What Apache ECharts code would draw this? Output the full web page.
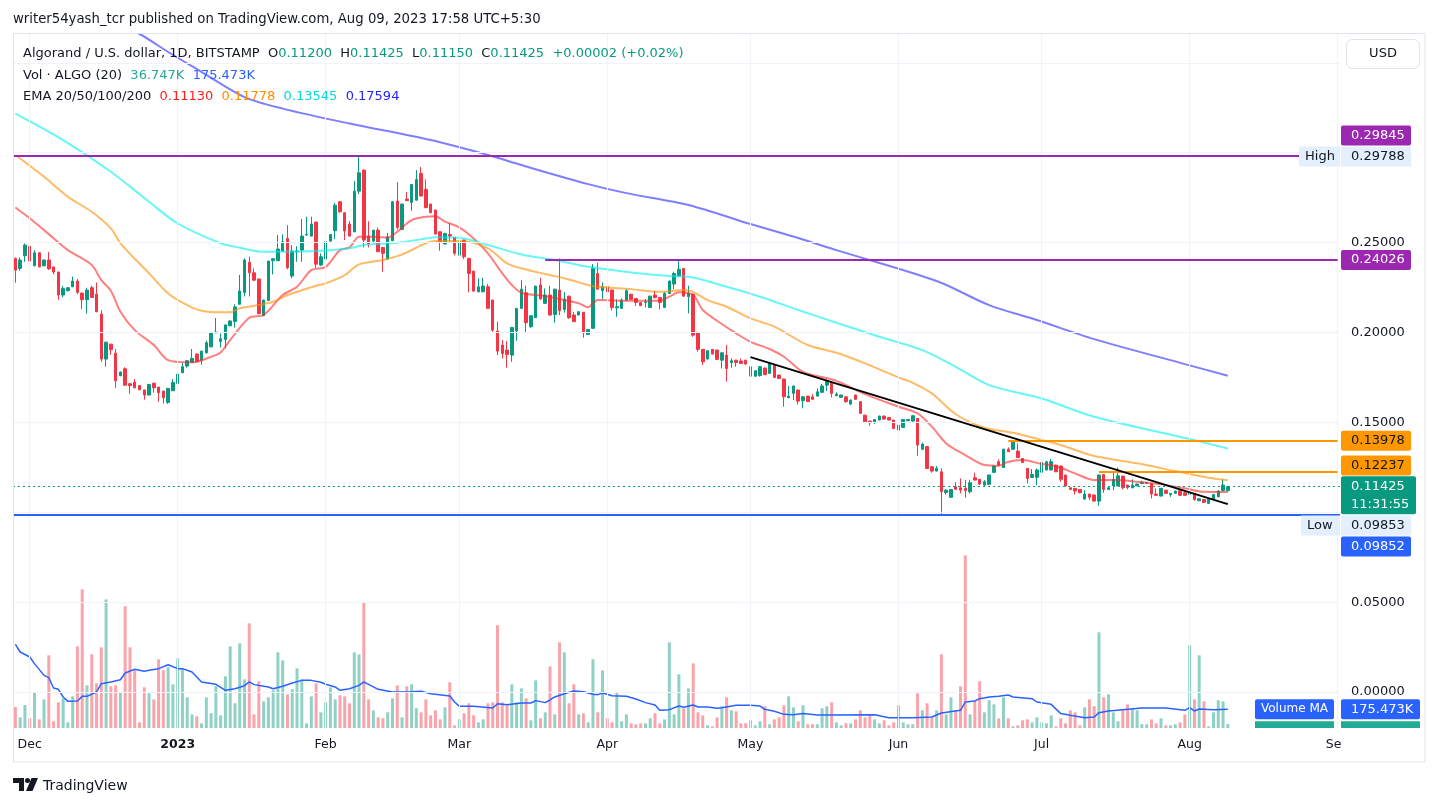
<!DOCTYPE html>
<html><head><meta charset="utf-8">
<script src="https://cdn.jsdelivr.net/npm/echarts/dist/echarts.min.js"></script>
<style>html,body{margin:0;padding:0;background:#fff}#c{width:1439px;height:807px}</style>
</head><body><div id="c"></div>
<script>
// ---------- DATA ----------
const firstDay = Date.UTC(2022, 10, 28);   // category axis runs Nov 28 2022 .. Sep 1 2023
const dayCount = 278;
const categories = [];
for (let i = 0; i < dayCount; i++) categories.push(new Date(firstDay + i * 86400000).toISOString().slice(0, 10));
const monthNames = ['Jan','Feb','Mar','Apr','May','Jun','Jul','Aug','Sep','Oct','Nov','Dec'];

const opens = [
.2412,.2356,.2427,.2480,.2371,.2443,.2371,.2403,.2364,.2336,
.2208,.2232,.2254,.2286,.2219,.2182,.2249,.2213,.2102,.1852,
.1935,.1885,.1759,.1798,.1715,.1724,.1705,.1680,.1652,.1718,
.1696,.1674,.1611,.1676,.1717,.1776,.1813,.1833,.1880,.1846,
.1887,.1920,.1998,.1950,.1961,.2037,.2061,.2157,.2222,.2391,
.2332,.2297,.2093,.2178,.2399,.2399,.2453,.2523,.2314,.2449,
.2458,.2542,.2536,.2614,.2375,.2408,.2508,.2566,.2727,.2666,
.2603,.2560,.2786,.2903,.2536,.2508,.2569,.2473,.2408,.2510,
.2731,.2573,.2742,.2723,.2736,.2885,.2796,.2714,.2681,.2560,
.2492,.2545,.2529,.2430,.2514,.2412,.2341,.2226,.2226,.2254,
.2180,.2008,.1930,.1902,.1874,.2008,.2134,.2221,.2032,.2082,
.2264,.2162,.2208,.2100,.2236,.2128,.2202,.2097,.2097,.2112,
.1989,.2023,.2328,.2232,.2254,.2236,.2137,.2134,.2180,.2213,
.2189,.2167,.2167,.2139,.2208,.2195,.2139,.2217,.2269,.2314,
.2356,.2199,.2213,.1995,.1906,.1852,.1906,.1902,.1846,.1874,
.1832,.1846,.1841,.1846,.1809,.1757,.1761,.1802,.1772,.1817,
.1763,.1741,.1637,.1661,.1680,.1620,.1646,.1642,.1646,.1667,
.1707,.1720,.1648,.1639,.1642,.1602,.1652,.1615,.1540,.1507,
.1498,.1513,.1535,.1527,.1513,.1457,.1472,.1509,.1507,.1522,
.1350,.1365,.1253,.1229,.1225,.1110,.1083,.1142,.1136,.1133,
.1114,.1192,.1183,.1151,.1155,.1222,.1281,.1249,.1351,.1350,
.1340,.1299,.1244,.1194,.1194,.1222,.1235,.1235,.1262,.1257,
.1207,.1136,.1133,.1127,.1073,.1101,.1096,.1062,.1210,.1127,
.1147,.1147,.1201,.1151,.1136,.1147,.1160,.1160,.1160,.1101,
.1090,.1123,.1099,.1105,.1120,.1108,.1099,.1105,.1064,.1071,
.1049,.1073,.1086,.1120,.11200];
const highs = [
.2417,.2417,.2495,.2484,.2458,.2447,.2405,.2447,.2366,.2338,
.2258,.2251,.2310,.2297,.2221,.2249,.2260,.2278,.2124,.1948,
.1937,.1908,.1782,.1806,.1717,.1741,.1707,.1682,.1713,.1720,
.1698,.1676,.1691,.1741,.1791,.1830,.1845,.1908,.1882,.1898,
.1954,.2002,.2080,.1994,.2044,.2066,.2157,.2320,.2412,.2421,
.2356,.2299,.2182,.2399,.2412,.2542,.2545,.2597,.2486,.2480,
.2631,.2644,.2644,.2616,.2440,.2507,.2547,.2721,.2729,.2668,
.2619,.2842,.29788,.2905,.2619,.2571,.2584,.2475,.2553,.2729,
.2836,.2716,.2781,.2825,.2903,.2920,.2851,.2716,.2683,.2562,
.2553,.2610,.2531,.2542,.2516,.2414,.2343,.2301,.2304,.2269,
.2182,.2060,.1958,.1952,.2030,.2136,.2291,.2260,.2095,.2260,
.2304,.2245,.2260,.2243,.2412,.2225,.2204,.2115,.2117,.2114,
.2019,.2380,.2388,.2278,.2278,.2238,.2184,.2189,.2241,.2215,
.2191,.2169,.2186,.2204,.2232,.2197,.2226,.2288,.2338,.2399,
.2358,.2260,.2215,.1997,.1908,.1900,.1908,.1904,.1889,.1930,
.1856,.1848,.1856,.1848,.1811,.1789,.1811,.1804,.1832,.1819,
.1765,.1743,.1702,.1704,.1682,.1646,.1648,.1657,.1689,.1713,
.1739,.1722,.1667,.1654,.1644,.1626,.1654,.1617,.1542,.1509,
.1518,.1537,.1537,.1529,.1515,.1487,.1518,.1518,.1540,.1524,
.1387,.1367,.1255,.1257,.1244,.1127,.1129,.1166,.1188,.1179,
.1179,.1220,.1185,.1179,.1209,.1262,.1294,.1353,.1361,.1402,
.1383,.1301,.1246,.1240,.1244,.1279,.1286,.1296,.1264,.1259,
.1209,.1138,.1135,.1129,.1123,.1103,.1098,.1209,.1212,.1142,
.1222,.1249,.1203,.1153,.1183,.1159,.1175,.1168,.1162,.1133,
.1135,.1125,.1107,.1120,.1122,.1114,.1112,.1107,.1077,.1073,
.1075,.1101,.1123,.1185,.11425];
const lows = [
.2277,.2343,.2393,.2393,.2368,.2362,.2368,.2347,.2323,.2182,
.2195,.2229,.2252,.2213,.2130,.2104,.2193,.2113,.1837,.1809,
.1876,.1692,.1757,.1702,.1659,.1690,.1679,.1626,.1650,.1665,
.1615,.1605,.1603,.1674,.1715,.1774,.1804,.1831,.1835,.1820,
.1882,.1918,.1996,.1916,.1912,.2035,.2027,.2155,.2200,.2200,
.2286,.2102,.2091,.2176,.2323,.2397,.2451,.2351,.2301,.2393,
.2393,.2538,.2534,.2360,.2369,.2317,.2506,.2519,.2666,.2514,
.2534,.2558,.2770,.2473,.2473,.2495,.2447,.2338,.2406,.2508,
.2573,.2571,.2731,.2677,.2734,.2757,.2692,.2664,.2545,.2454,
.2490,.2505,.2430,.2428,.2408,.2223,.2226,.2224,.2224,.2132,
.2004,.1874,.1856,.1804,.1837,.1954,.2132,.1998,.2026,.2080,
.2184,.2160,.2095,.2054,.2097,.2110,.2076,.2058,.2095,.1971,
.1987,.2021,.2239,.2186,.2199,.2121,.2087,.2132,.2178,.2182,
.2147,.2147,.2139,.2137,.2191,.2128,.2137,.2215,.2241,.2312,
.2200,.2106,.1976,.1893,.1819,.1850,.1878,.1848,.1800,.1726,
.1804,.1809,.1826,.1822,.1752,.1754,.1754,.1763,.1770,.1748,
.1742,.1587,.1635,.1624,.1600,.1578,.1613,.1626,.1644,.1665,
.1674,.1639,.1646,.1637,.1609,.1596,.1626,.1548,.1498,.1481,
.1490,.1511,.1513,.1511,.1464,.1451,.1470,.1507,.1505,.1314,
.1348,.1242,.1220,.1227,.09853,.1099,.1081,.1125,.1105,.1081,
.1105,.1177,.1151,.1146,.1151,.1220,.1260,.1247,.1335,.1348,
.1303,.1275,.1160,.1192,.1151,.1220,.1233,.1233,.1223,.1170,
.1144,.1125,.1099,.1106,.1071,.1068,.1060,.1036,.1108,.1125,
.1123,.1145,.1127,.1127,.1134,.1145,.1158,.1158,.1077,.1092,
.1088,.1103,.1086,.1103,.1092,.1092,.1068,.1064,.1062,.1053,
.1047,.1071,.1084,.1118,.11150];
const closes = [
.2347,.2403,.2486,.2397,.2443,.2365,.2403,.2354,.2336,.2208,
.2245,.2249,.2286,.2223,.2182,.2236,.2195,.2115,.1852,.1946,
.1904,.1731,.1780,.1707,.1704,.1692,.1681,.1652,.1711,.1692,
.1665,.1637,.1689,.1722,.1769,.1809,.1843,.1856,.1837,.1896,
.1943,.2000,.2002,.1965,.2042,.2064,.2142,.2231,.2403,.2332,
.2291,.2104,.2180,.2397,.2410,.2464,.2505,.2360,.2453,.2453,
.2536,.2545,.2603,.2380,.2421,.2505,.2545,.2708,.2671,.2564,
.2536,.2786,.2888,.2514,.2492,.2569,.2449,.2440,.2532,.2727,
.2584,.2714,.2733,.2823,.2851,.2759,.2694,.2666,.2547,.2505,
.2551,.2536,.2440,.2505,.2421,.2328,.2230,.2254,.2258,.2134,
.2013,.1896,.1883,.1878,.2028,.2134,.2241,.2054,.2093,.2258,
.2186,.2208,.2097,.2241,.2121,.2186,.2082,.2060,.2115,.1998,
.2017,.2356,.2241,.2254,.2226,.2139,.2143,.2180,.2232,.2184,
.2167,.2149,.2171,.2202,.2193,.2167,.2217,.2286,.2328,.2352,
.2202,.2217,.1985,.1906,.1837,.1898,.1880,.1850,.1887,.1800,
.1843,.1833,.1828,.1824,.1757,.1787,.1809,.1765,.1828,.1750,
.1744,.1642,.1646,.1702,.1618,.1642,.1615,.1628,.1670,.1702,
.1731,.1661,.1657,.1652,.1615,.1624,.1628,.1550,.1503,.1498,
.1516,.1535,.1518,.1513,.1466,.1485,.1516,.1516,.1537,.1374,
.1379,.1244,.1229,.1244,.1114,.1123,.1127,.1127,.1123,.1120,
.1164,.1179,.1157,.1170,.1207,.1257,.1262,.1351,.1337,.1392,
.1305,.1277,.1188,.1210,.1235,.1277,.1281,.1281,.1225,.1183,
.1146,.1127,.1118,.1108,.1101,.1083,.1062,.1207,.1127,.1136,
.1183,.1203,.1136,.1138,.1151,.1157,.1166,.1166,.1101,.1094,
.1133,.1105,.1105,.1118,.1094,.1094,.1110,.1071,.1075,.1055,
.1073,.1099,.1118,.1151,.11425];
// volume in thousands of ALGO
const volumesK = [
197,100,216,91,335,81,269,682,63,241,
278,53,297,766,1301,400,691,419,757,1207,
391,400,335,1142,757,541,53,382,326,269,
645,541,570,410,654,560,288,128,110,44,
288,138,391,119,485,766,232,795,457,982,
128,438,250,288,354,710,635,316,363,560,
457,44,297,419,147,241,382,269,307,297,
232,710,691,1179,269,166,100,91,147,278,
400,100,391,410,185,147,269,119,166,81,
194,429,25,81,138,232,119,53,81,232,
241,964,241,213,410,241,372,278,72,447,
91,147,579,128,804,710,232,410,128,138,
53,645,147,541,91,53,335,63,128,44,
35,44,44,91,138,44,81,804,128,504,
185,372,607,147,119,25,16,100,204,288,
166,157,44,44,72,25,63,204,35,81,
100,213,297,194,63,213,35,35,35,185,
204,241,53,25,44,44,81,166,100,119,
81,44,72,25,53,213,53,35,35,326,
166,232,100,166,691,128,288,166,391,1620,
128,250,438,147,260,222,91,288,91,16,
25,72,81,53,100,53,44,119,16,91,
44,166,147,25,194,269,204,898,288,316,
147,63,166,222,185,166,35,35,81,44,
91,25,25,35,53,128,776,269,682,250,
16,147,260,250,36.747];
// indicator lines: [day index, value]
const volumeMA = [[0,785],[1,713],[3,666],[4,604],[6,494],[7,472],[8,375],[9,363],[10,291],[11,250],[13,253],[14,297],[15,297],[17,338],[18,416],[20,432],[22,453],[23,516],[25,551],[27,532],[28,541],[30,557],[32,594],[34,557],[35,557],[37,525],[39,432],[42,410],[44,354],[46,369],[48,397],[49,432],[50,407],[53,385],[54,369],[56,391],[58,422],[60,447],[62,447],[64,429],[65,410],[67,385],[68,354],[70,369],[72,400],[73,432],[74,410],[76,363],[79,338],[83,341],[85,344],[87,322],[91,300],[92,244],[93,203],[96,203],[100,188],[101,228],[103,219],[106,235],[108,235],[109,257],[111,238],[112,263],[113,291],[115,322],[117,347],[119,341],[121,316],[122,313],[123,328],[125,303],[128,297],[130,272],[132,238],[134,216],[135,166],[137,172],[139,206],[140,194],[142,216],[143,197],[145,197],[147,185],[148,191],[151,213],[154,213],[156,206],[157,175],[159,157],[161,128],[163,125],[165,135],[168,122],[171,122],[180,125],[183,97],[188,97],[192,103],[194,141],[198,166],[199,244],[201,253],[202,275],[204,291],[206,297],[208,310],[209,291],[213,275],[214,244],[217,222],[219,135],[221,119],[224,97],[226,103],[227,144],[229,160],[232,172],[236,188],[241,188],[245,166],[246,191],[247,160],[248,178],[251,172],[254,175.473]];
const ema20 = [[0,.2695],[3,.2635],[7,.2547],[11,.2458],[16,.2375],[18,.2291],[20,.2232],[22,.2115],[25,.2013],[29,.1930],[32,.1846],[36,.1834],[38,.1837],[41,.1865],[43,.1889],[45,.1958],[49,.2082],[52,.2097],[56,.2208],[59,.2254],[62,.2347],[65,.2365],[68,.2458],[70,.2473],[72,.2532],[75,.2532],[78,.2527],[80,.2560],[83,.2625],[86,.2644],[88,.2647],[90,.2616],[93,.2585],[96,.2523],[99,.2440],[102,.2329],[104,.2264],[106,.2221],[111,.2202],[115,.2180],[118,.2162],[120,.2140],[121,.2162],[122,.2180],[129,.2176],[135,.2176],[137,.2199],[139,.2223],[142,.2208],[144,.2125],[148,.2047],[151,.1995],[154,.1948],[158,.1908],[161,.1865],[165,.1781],[172,.1731],[178,.1657],[185,.1587],[189,.1550],[192,.1476],[195,.1383],[199,.1318],[203,.1263],[206,.1259],[208,.1281],[211,.1290],[215,.1268],[218,.1257],[222,.1216],[226,.1179],[230,.1179],[235,.1170],[240,.1155],[245,.1133],[249,.1114],[254,.11130]];
const ema50 = [[0,.2987],[6,.2866],[11,.2755],[16,.2671],[20,.2579],[22,.2496],[28,.2329],[32,.2217],[36,.2152],[39,.2121],[43,.2112],[45,.2112],[47,.2134],[50,.2148],[54,.2171],[57,.2208],[63,.2260],[65,.2273],[69,.2319],[72,.2379],[77,.2403],[81,.2434],[86,.2496],[88,.2508],[93,.2508],[99,.2468],[103,.2384],[106,.2357],[111,.2325],[116,.2295],[121,.2258],[129,.2241],[135,.2226],[140,.2236],[142,.2226],[145,.2180],[149,.2143],[154,.2078],[159,.2032],[166,.1930],[172,.1887],[178,.1828],[185,.1750],[188,.1720],[192,.1661],[197,.1545],[203,.1470],[209,.1442],[215,.1402],[219,.1374],[226,.1313],[235,.1272],[243,.1229],[250,.1192],[254,.11778]];
const ema100 = [[0,.3217],[10,.3070],[20,.2894],[28,.2727],[34,.2606],[43,.2496],[47,.2471],[52,.2449],[63,.2453],[70,.2468],[73,.2486],[80,.2499],[86,.2523],[88,.2529],[94,.2523],[99,.2486],[106,.2434],[113,.2403],[120,.2365],[129,.2334],[137,.2314],[141,.2310],[149,.2254],[156,.2199],[164,.2125],[172,.2054],[181,.1976],[190,.1902],[197,.1809],[204,.1707],[215,.1633],[226,.1531],[246,.1407],[254,.13545]];
const ema200 = [[0,.403],[13,.383],[26,.366],[32,.3560],[38,.3465],[48,.3309],[56,.3245],[70,.3162],[87,.3070],[99,.2987],[106,.2931],[120,.2825],[128,.2775],[141,.2709],[154,.2603],[164,.2525],[172,.2458],[193,.2286],[204,.2152],[214,.2069],[226,.1963],[245,.1824],[254,.17594]];
// drawings
const trendLine = [[154, 0.1863], [254, 0.1045]];
const highLevel = 0.29845, lowLevel = 0.09852;
const resistance = [[111, 0.24026], [208, 0.13978], [227, 0.12237]];
const lastPrice = 0.11425, highMark = 0.29788, lowMark = 0.09853;
const priceTicks = [0, 0.05, 0.10, 0.15, 0.20, 0.25, 0.30, 0.35];
const hiddenTickLabels = [0.10, 0.30, 0.35];

// ---------- CHART ----------
const FONT = 'DejaVu Sans';
const TXT = '#131722';
const UP = '#089981', DOWN = '#f23645';
const chart = echarts.init(document.getElementById('c'), null, {renderer: 'canvas'});
const last = closes.length - 1;
const candleData = opens.map((o, i) => [o, closes[i], lows[i], highs[i]]);
const volData = volumesK.map((v, i) => ({value: v, itemStyle: {color: closes[i] >= opens[i] ? 'rgba(8,153,129,0.45)' : 'rgba(242,54,69,0.45)'}}));
const monthStarts = categories.filter(c => c.slice(8) === '01');
const PANE_TOP = 34, PANE_BOTTOM = 728, PANE_LEFT = 13, PANE_RIGHT = 1340;
const VOL_PER_PX = 9.383; // thousands per pixel in the volume overlay

const emaLine = (data, color) => ({type: 'line', data, symbol: 'none', smooth: 0.3, z: 4, silent: true,
  lineStyle: {color, width: 2}, yAxisIndex: 0});

chart.setOption({
  animation: false,
  backgroundColor: '#ffffff',
  grid: {left: PANE_LEFT, right: 1439 - PANE_RIGHT, top: PANE_TOP, bottom: 807 - PANE_BOTTOM},
  xAxis: {type: 'category', data: categories, boundaryGap: true,
    axisLine: {show: false}, axisTick: {show: false}, splitLine: {show: false},
    axisLabel: {interval: (i, v) => v.slice(8) === '01',
      formatter: v => { const m = +v.slice(5, 7); return m === 1 ? '{b|' + v.slice(0, 4) + '}' : monthNames[m - 1]; },
      rich: {b: {fontWeight: 'bold', fontSize: 12.5, fontFamily: FONT, color: TXT}},
      color: TXT, fontSize: 12.5, fontFamily: FONT, margin: 10}},
  yAxis: [
    {type: 'value', position: 'right', min: -0.02, max: 0.366, interval: 0.01,
      axisLine: {show: false}, axisTick: {show: false}, splitLine: {show: false},
      axisLabel: {color: TXT, fontSize: 13, fontFamily: FONT, margin: 11,
        formatter: v => { const k = Math.round(v * 1000); if (k < 0 || k % 50 !== 0) return '';
          if (hiddenTickLabels.some(h => Math.abs(h - v) < 1e-6)) return ''; return v.toFixed(5); }}},
    {type: 'value', min: 0, max: (PANE_BOTTOM - PANE_TOP) * VOL_PER_PX, show: false}
  ],
  series: [
    {type: 'line', data: [], z: 0, silent: true,
      markLine: {silent: true, precision: 5, symbol: ['none', 'none'], label: {show: false}, animation: false,
        lineStyle: {color: '#f0f3fa', width: 1, type: 'solid'},
        data: priceTicks.map(v => ({yAxis: v})).concat(monthStarts.map(c => ({xAxis: c})))}},
    {type: 'bar', data: volData, yAxisIndex: 1, barWidth: 3, z: 1, silent: true},
    {type: 'line', data: volumeMA, yAxisIndex: 1, symbol: 'none', z: 2, silent: true,
      lineStyle: {color: '#2962ff', width: 1.5}},
    {type: 'candlestick', data: candleData, barWidth: 3, z: 3, silent: true,
      itemStyle: {color: UP, color0: DOWN, borderColor: UP, borderColor0: DOWN, borderWidth: 1}},
    emaLine(ema20, 'rgba(255,40,40,0.6)'),
    emaLine(ema50, 'rgba(255,140,0,0.6)'),
    emaLine(ema100, 'rgba(0,240,240,0.6)'),
    emaLine(ema200, 'rgba(40,40,255,0.6)'),
    {type: 'line', data: [], z: 5, silent: true,
      markLine: {silent: true, precision: 5, symbol: ['none', 'none'], label: {show: false}, animation: false,
        data: [
          {yAxis: highLevel, lineStyle: {color: '#9c27b0', width: 2, type: 'solid'}},
          {yAxis: lowLevel, lineStyle: {color: '#2962ff', width: 2, type: 'solid'}},
          {yAxis: lastPrice, lineStyle: {color: UP, width: 1, type: [2, 3]}},
          [{coord: resistance[0], lineStyle: {color: '#9c27b0', width: 2, type: 'solid'}}, {coord: [dayCount - 1, resistance[0][1]]}],
          [{coord: resistance[1], lineStyle: {color: '#ff9800', width: 2, type: 'solid'}}, {coord: [dayCount - 1, resistance[1][1]]}],
          [{coord: resistance[2], lineStyle: {color: '#ff9800', width: 2, type: 'solid'}}, {coord: [dayCount - 1, resistance[2][1]]}]
        ]}},
    {type: 'line', data: trendLine, symbol: 'none', z: 6, silent: true, lineStyle: {color: '#000000', width: 2}}
  ]
});

// ---------- OVERLAY TEXT / BADGES ----------
const yp = v => chart.convertToPixel({yAxisIndex: 0}, v);
const yv = v => chart.convertToPixel({yAxisIndex: 1}, v);
const g = [];
const font13 = '13px "' + FONT + '"';
function text(x, y, s, fill, font, align) {
  g.push({type: 'text', x, y, z: 102, silent: true,
    style: {text: s, fill, font: font || font13, textAlign: align || 'left', align: align || 'left', textVerticalAlign: 'middle', verticalAlign: 'middle'}});
}
function rect(x, y, w, h, fill, r) {
  g.push({type: 'rect', z: 101, silent: true, shape: {x, y, width: w, height: h, r: r || 0}, style: {fill}});
}
function badge(yc, bg, s, tc) { rect(1341, yc - 10, 70, 20, bg, 2); text(1351, yc, s, tc); }

// frame
g.push({type: 'rect', z: 99, silent: true, shape: {x: 13.5, y: 33.5, width: 1411.5, height: 728.5}, style: {fill: 'none', stroke: '#e0e3eb', lineWidth: 1}});
// hide the part of the "Sep" label that runs under the price scale
rect(1341, 730, 83, 31, '#ffffff');
// header
text(13, 20, 'writer54yash_tcr published on TradingView.com, Aug 09, 2023 17:58 UTC+5:30', '#131722', '13.25px "' + FONT + '"');
const rich = {
  d: {fill: TXT, font: font13, color: TXT},
  g: {fill: UP, font: font13, color: UP},
  t: {fill: '#26a69a', font: font13, color: '#26a69a'},
  b: {fill: '#2962ff', font: font13, color: '#2962ff'},
  r: {fill: '#ff1f1f', font: font13, color: '#ff1f1f'},
  o: {fill: '#ff8c00', font: font13, color: '#ff8c00'},
  c: {fill: '#00d8e6', font: font13, color: '#00d8e6'},
  u: {fill: '#2424ff', font: font13, color: '#2424ff'}
};
const f5 = v => v.toFixed(5);
const headerLines = [
  '{d|Algorand / U.S. dollar, 1D, BITSTAMP}  {d|O}{g|' + f5(opens[last]) + '}  {d|H}{g|' + f5(highs[last]) + '}  {d|L}{g|' + f5(lows[last]) + '}  {d|C}{g|' + f5(closes[last]) + '}  {g|+0.00002 (+0.02%)}',
  '{d|Vol · ALGO (20)}  {t|' + volumesK[last].toFixed(3) + 'K}  {b|' + volumeMA[volumeMA.length - 1][1].toFixed(3) + 'K}',
  '{d|EMA 20/50/100/200}  {r|' + f5(ema20[ema20.length - 1][1]) + '}  {o|' + f5(ema50[ema50.length - 1][1]) + '}  {c|' + f5(ema100[ema100.length - 1][1]) + '}  {u|' + f5(ema200[ema200.length - 1][1]) + '}'
];
[53.5, 75.5, 96.5].forEach((y, i) => g.push({type: 'text', x: 23, y, z: 102, silent: true,
  style: {text: headerLines[i], rich, fill: TXT, font: font13, textVerticalAlign: 'middle', verticalAlign: 'middle'}}));
// USD button
g.push({type: 'rect', z: 101, silent: true, shape: {x: 1346.5, y: 39.5, width: 73, height: 29, r: 6}, style: {fill: '#fff', stroke: '#e0e3eb', lineWidth: 1}});
text(1383, 54, 'USD', TXT, font13, 'center');
// price-scale badges
badge(yp(highLevel) - 20, '#9c27b0', f5(highLevel), '#ffffff');
rect(1299, yp(highMark) - 10, 41, 20, '#e3effd'); rect(1341, yp(highMark) - 10, 70, 20, '#e3effd');
text(1305, yp(highMark), 'High', TXT); text(1351, yp(highMark), f5(highMark), TXT);
badge(yp(resistance[0][1]), '#9c27b0', f5(resistance[0][1]), '#ffffff');
badge(yp(resistance[1][1]), '#ff9800', f5(resistance[1][1]), TXT);
badge(yp(resistance[2][1]) - 6.5, '#ff9800', f5(resistance[2][1]), TXT);
rect(1341, yp(lastPrice) - 10.5, 75, 38, UP, 2);
text(1351, yp(lastPrice), f5(lastPrice), '#ffffff'); text(1351, yp(lastPrice) + 18, '11:31:55', '#ffffff');
rect(1301, yp(lowMark) + 0.5, 39, 20, '#e3effd'); rect(1341, yp(lowMark) + 0.5, 70, 20, '#e3effd');
text(1307, yp(lowMark) + 10.5, 'Low', TXT); text(1351, yp(lowMark) + 10.5, f5(lowMark), TXT);
badge(yp(lowLevel) + 31.5, '#2962ff', f5(lowLevel), '#ffffff');
// volume badges
const maY = yv(volumeMA[volumeMA.length - 1][1]);
rect(1255, maY - 10, 79, 20, '#2962ff', 2); text(1294.5, maY, 'Volume MA', '#ffffff', '12px "' + FONT + '"', 'center');
rect(1341, maY - 10, 79, 20, '#2962ff', 2); text(1351, maY, volumeMA[volumeMA.length - 1][1].toFixed(3) + 'K', '#ffffff');
rect(1255, maY + 12, 79, PANE_BOTTOM - maY - 12, '#22ab94', 0); rect(1341, maY + 12, 79, PANE_BOTTOM - maY - 12, '#22ab94', 0);
// TradingView logo
g.push({type: 'polygon', z: 102, silent: true, shape: {points: [[13,778],[24,778],[24,791],[19,791],[19,783],[13,783]]}, style: {fill: TXT}});
g.push({type: 'circle', z: 102, silent: true, shape: {cx: 27.5, cy: 780.5, r: 2.5}, style: {fill: TXT}});
g.push({type: 'polygon', z: 102, silent: true, shape: {points: [[31.5,778],[38,778],[32.5,791],[26,791]]}, style: {fill: TXT}});
text(43, 786, 'TradingView', TXT, '14px "' + FONT + '"');

chart.setOption({graphic: {elements: g}});
</script>
</body></html>
